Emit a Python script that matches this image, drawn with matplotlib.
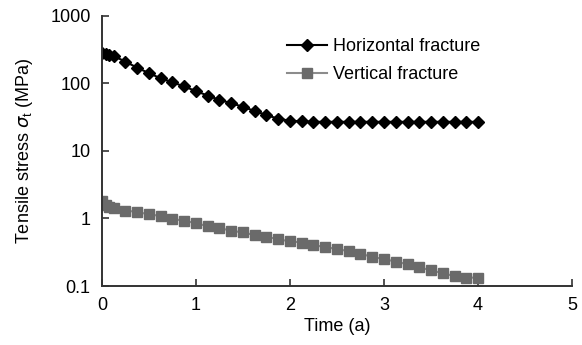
import numpy as np
import matplotlib
matplotlib.use('Agg')
import matplotlib.pyplot as plt
from matplotlib.ticker import FixedLocator, FixedFormatter, NullLocator

plt.rcParams['font.family']=['Liberation Sans','DejaVu Sans']
plt.rcParams['mathtext.fontset']='custom'
plt.rcParams['mathtext.rm']='Liberation Sans'
plt.rcParams['mathtext.it']='DejaVu Sans:italic'

# time (a)
t=[0,0.04,0.08,0.125]+[0.25+0.125*k for k in range(31)]
# tensile stress (MPa)
horiz=[285,275,265,255,210,171,142,119,104,90,77,66,57,51,45,39,34,30,28,27.5,
       27,27,27,27,27,27,27,27,27,27,27,27,27,27,27]
vert=[1.8,1.6,1.5,1.45,1.31,1.25,1.15,1.09,0.98,0.93,0.85,0.77,0.72,0.66,0.62,0.57,0.54,0.49,0.46,0.44,
      0.40,0.38,0.35,0.33,0.30,0.27,0.25,0.23,0.21,0.19,0.17,0.155,0.14,0.133,0.133]
yticks=[0.1,1,10,100,1000]
ylabels=['0.1','1','10','100','1000']

fig=plt.figure(figsize=(5.82,3.45),dpi=100)
ax=fig.add_axes([0.175,0.171,0.808,0.783])
ax.plot(t,horiz,color='black',lw=1.5,marker='D',ms=6.3,mfc='black',mec='black',label='Horizontal fracture')
ax.plot(t,vert,color='#8c8c8c',lw=1.5,marker='s',ms=6.5,mfc='#6a6a6a',mec='#6a6a6a',label='Vertical fracture')
ax.set_yscale('log')
ax.set_ylim(0.1,1000)
ax.set_xlim(0,5)
ax.yaxis.set_major_locator(FixedLocator(yticks))
ax.yaxis.set_major_formatter(FixedFormatter(ylabels))
ax.yaxis.set_minor_locator(NullLocator())
ax.set_xticks([0,1,2,3,4,5])
for s in ['top','right']:
	ax.spines[s].set_visible(False)
for s in ['left','bottom']:
	ax.spines[s].set_color('#333333')
	ax.spines[s].set_linewidth(1.4)
ax.tick_params(direction='in',length=5,width=1.2,color='#333333',labelsize=13,pad=8)
ax.set_xlabel('Time (a)',fontsize=13,labelpad=3)
ax.set_ylabel(r'Tensile stress $\sigma_{\rm t}$ (MPa)',fontsize=13,labelpad=11)
ax.legend(loc='upper left',bbox_to_anchor=(0.36,0.978),frameon=False,fontsize=13,handlelength=2.2,handletextpad=0.3,labelspacing=0.6)
fig.savefig('out.png',dpi=100)
